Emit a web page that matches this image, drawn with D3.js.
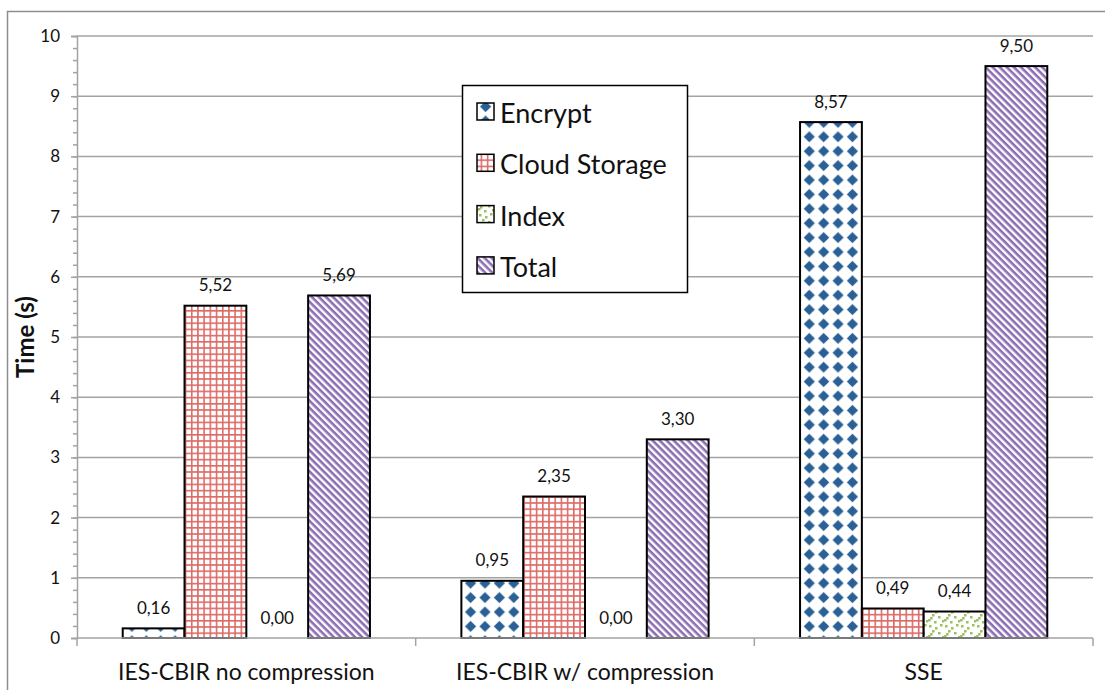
<!DOCTYPE html>
<html>
<head>
<meta charset="utf-8">
<script src="https://cdn.jsdelivr.net/npm/d3@7"></script>
<style>
  html, body { margin: 0; padding: 0; background: #fff; }
  svg { display: block; font-family: Lato, "Open Sans", sans-serif; }
</style>
</head>
<body>
<svg id="chart" width="1105" height="690"></svg>
<script>
// Timing of each stage per scheme (seconds)
const categories = ["IES-CBIR no compression", "IES-CBIR w/ compression", "SSE"];
const seriesNames = ["Encrypt", "Cloud Storage", "Index", "Total"];
const encrypt = [0.16, 0.95, 8.57];
const cloudStorage = [5.52, 2.35, 0.49];
const indexTime = [0.00, 0.00, 0.44];
const total = [5.69, 3.30, 9.50];
const yTicks = [0, 1, 2, 3, 4, 5, 6, 7, 8, 9, 10];

const seriesValues = [encrypt, cloudStorage, indexTime, total];
const patternIds = ["pat-encrypt", "pat-cloud", "pat-index", "pat-total"];

const svg = d3.select("#chart");
const W = 1105, H = 690;
const plot = { left: 77, right: 1093, top: 36, bottom: 638 };
const axisGray = "#a3a3a3";

// ---------- fill patterns ----------
const defs = svg.append("defs");

// blue diamonds on white
const pEnc = defs.append("pattern").attr("id", "pat-encrypt")
  .attr("patternUnits", "userSpaceOnUse").attr("width", 14.4).attr("height", 14.4)
  .attr("x", 2).attr("y", 0);
pEnc.append("rect").attr("width", 14.4).attr("height", 14.4).attr("fill", "#fff");
pEnc.append("path").attr("d", "M7.2,1.6 L12.8,7.2 L7.2,12.8 L1.6,7.2 Z").attr("fill", "#2a6096");

// red grid on white
const pCloud = defs.append("pattern").attr("id", "pat-cloud")
  .attr("patternUnits", "userSpaceOnUse").attr("width", 6.2).attr("height", 6.2);
pCloud.append("rect").attr("width", 6.2).attr("height", 6.2).attr("fill", "#fff");
pCloud.append("rect").attr("x", 0).attr("y", 0).attr("width", 1.6).attr("height", 6.2).attr("fill", "#dd6a66");
pCloud.append("rect").attr("x", 0).attr("y", 0).attr("width", 6.2).attr("height", 1.6).attr("fill", "#dd6a66");

// green confetti on white
const pIdx = defs.append("pattern").attr("id", "pat-index")
  .attr("patternUnits", "userSpaceOnUse").attr("width", 16).attr("height", 16);
pIdx.append("rect").attr("width", 16).attr("height", 16).attr("fill", "#fff");
[[1,1],[7,3],[12,0],[4,6],[10,8],[0,11],[14,12],[6,13],[2,9]].forEach(([x, y]) => {
  pIdx.append("rect").attr("x", x).attr("y", y).attr("width", 2.5).attr("height", 2.5).attr("fill", "#9bbf5c");
});

// purple diagonal stripes on white
const pTot = defs.append("pattern").attr("id", "pat-total")
  .attr("patternUnits", "userSpaceOnUse").attr("width", 5).attr("height", 5)
  .attr("patternTransform", "rotate(45)");
pTot.append("rect").attr("width", 5).attr("height", 5).attr("fill", "#fff");
pTot.append("rect").attr("x", 0).attr("y", 0).attr("width", 5).attr("height", 2.6).attr("fill", "#8c6db4");

// ---------- outer frame ----------
svg.append("rect")
  .attr("x", 7.5).attr("y", 11.5).attr("width", W + 10).attr("height", H + 10)
  .attr("fill", "none").attr("stroke", "#8e8e8e").attr("stroke-width", 1.5);

// ---------- scales ----------
const x0 = d3.scaleBand().domain(categories).range([plot.left, plot.right])
  .paddingInner(0.27).paddingOuter(0.135);
const x1 = d3.scaleBand().domain(seriesNames).range([0, x0.bandwidth()]).padding(0);
const y = d3.scaleLinear().domain([0, 10]).range([plot.bottom, plot.top]);

// ---------- gridlines ----------
svg.append("g").selectAll("line").data(yTicks.filter(d => d > 0)).join("line")
  .attr("x1", plot.left).attr("x2", plot.right)
  .attr("y1", d => y(d)).attr("y2", d => y(d))
  .attr("stroke", axisGray).attr("stroke-width", 1.5);

// ---------- y axis (minor + major ticks) ----------
const minor = d3.range(0, 10.001, 0.2);
const gMinor = svg.append("g").attr("transform", `translate(${plot.left},0)`)
  .call(d3.axisLeft(y).tickValues(minor).tickSize(4).tickFormat(""));
gMinor.select(".domain").remove();
gMinor.selectAll("line").attr("stroke", axisGray).attr("stroke-width", 1.5);

const gY = svg.append("g").attr("transform", `translate(${plot.left},0)`)
  .call(d3.axisLeft(y).tickValues(yTicks).tickSize(6).tickPadding(11).tickFormat(d3.format("d")));
gY.select(".domain").attr("stroke", axisGray).attr("stroke-width", 1.5);
gY.selectAll(".tick line").attr("stroke", axisGray).attr("stroke-width", 1.5);
gY.selectAll(".tick text").attr("font-size", 17).attr("fill", "#111")
  .attr("font-family", "Lato, sans-serif");

// y axis title
svg.append("text")
  .attr("transform", `translate(34,${(plot.top + plot.bottom) / 2}) rotate(-90)`)
  .attr("text-anchor", "middle")
  .attr("font-size", 24).attr("font-weight", "bold").attr("fill", "#111")
  .text("Time (s)");

// ---------- bars ----------
const groups = svg.append("g").selectAll("g").data(categories).join("g")
  .attr("transform", d => `translate(${x0(d)},0)`);

groups.each(function (cat, ci) {
  const g = d3.select(this);
  seriesNames.forEach((s, si) => {
    const v = seriesValues[si][ci];
    if (v > 0) {
      g.append("rect")
        .attr("x", x1(s)).attr("width", x1.bandwidth())
        .attr("y", y(v)).attr("height", y(0) - y(v))
        .attr("fill", `url(#${patternIds[si]})`)
        .attr("stroke", "#000").attr("stroke-width", 2);
    }
    g.append("text")
      .attr("x", x1(s) + x1.bandwidth() / 2)
      .attr("y", y(v) - 14.5)
      .attr("text-anchor", "middle")
      .attr("font-size", 17).attr("fill", "#111")
      .text(d3.format(".2f")(v).replace(".", ","));
  });
});

// ---------- x axis ----------
svg.append("line")
  .attr("x1", plot.left).attr("x2", plot.right)
  .attr("y1", plot.bottom).attr("y2", plot.bottom)
  .attr("stroke", axisGray).attr("stroke-width", 1.5);
const bounds = [plot.left].concat(categories.map(c => x0(c) + x0.bandwidth() + x0.step() * x0.paddingInner() / 2));
svg.append("g").selectAll("line").data(bounds).join("line")
  .attr("x1", d => d).attr("x2", d => d)
  .attr("y1", plot.bottom).attr("y2", plot.bottom + 8)
  .attr("stroke", axisGray).attr("stroke-width", 1.5);
svg.append("g").selectAll("text").data(categories).join("text")
  .attr("x", d => x0(d) + x0.bandwidth() / 2)
  .attr("y", 680)
  .attr("text-anchor", "middle")
  .attr("font-size", 23).attr("fill", "#111")
  .text(d => d);

// ---------- legend ----------
const lg = svg.append("g").attr("transform", "translate(462,85)");
lg.append("rect").attr("x", 0.5).attr("y", 0.5).attr("width", 225).attr("height", 207)
  .attr("fill", "#fff").attr("stroke", "#000").attr("stroke-width", 1.5);
seriesNames.forEach((s, i) => {
  const base = 38 + i * 51.3;
  lg.append("rect")
    .attr("x", 15).attr("y", base - 20).attr("width", 17).attr("height", 17)
    .attr("fill", `url(#${patternIds[i]})`)
    .attr("stroke", "#000").attr("stroke-width", 1.5);
  lg.append("text")
    .attr("x", 38).attr("y", base)
    .attr("font-size", 27).attr("fill", "#111")
    .text(s);
});
</script>
</body>
</html>
